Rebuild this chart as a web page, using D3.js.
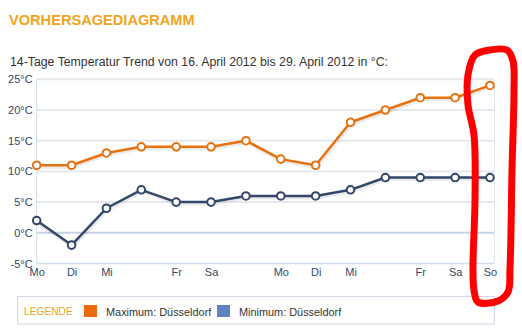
<!DOCTYPE html>
<html><head><meta charset="utf-8">
<script src="https://cdn.jsdelivr.net/npm/d3@7"></script>
<style>
html,body{margin:0;padding:0;background:#fff;}
svg{display:block;font-family:"Liberation Sans",Arial,sans-serif;}
</style></head>
<body>
<svg id="c" width="522" height="333"></svg>
<script>
const title = "VORHERSAGEDIAGRAMM";
const subtitle = "14-Tage Temperatur Trend von 16. April 2012 bis 29. April 2012 in °C:";
const dayLabels = ["Mo","Di","Mi","","Fr","Sa","","Mo","Di","Mi","","Fr","Sa","So"];
const maxTemps = [11,11,13,14,14,14,15,12,11,18,20,22,22,24];
const minTemps = [2,-2,4,7,5,5,6,6,6,7,9,9,9,9];
const yTicks = [-5,0,5,10,15,20,25];
const seriesNames = ["Maximum: Düsseldorf","Minimum: Düsseldorf"];
const legendTitle = "LEGENDE";

(function(){
const svg = d3.select("#c");
const pLeft = 36.7, pRight = 490, plotRight = 494.5, pTop = 79.3, pBottom = 263.5;

svg.append("text").attr("x",9).attr("y",24.5).attr("font-size",14.6).attr("font-weight","bold")
  .attr("fill","#f0a51c").text(title);
svg.append("text").attr("x",10).attr("y",66.3).attr("font-size",12.3).attr("fill","#333")
  .text(subtitle);

const x = d3.scalePoint().domain(d3.range(dayLabels.length)).range([pLeft,pRight]);
const y = d3.scaleLinear().domain([-5,25]).range([pBottom,pTop]);

// grid
const g = svg.append("g");
g.selectAll("line.grid").data(yTicks.filter(d=>d!==0 && d!==-5)).join("line")
  .attr("x1",pLeft).attr("x2",plotRight).attr("y1",d=>y(d)).attr("y2",d=>y(d))
  .attr("stroke","#e6e9ee").attr("stroke-width",2);
g.append("line").attr("x1",pLeft).attr("x2",plotRight).attr("y1",y(0)).attr("y2",y(0))
  .attr("stroke","#c3d2e8").attr("stroke-width",2);
g.append("line").attr("x1",pLeft).attr("x2",plotRight).attr("y1",y(-5)).attr("y2",y(-5))
  .attr("stroke","#d3ddec").attr("stroke-width",1.5);
g.append("line").attr("x1",pLeft).attr("x2",pLeft).attr("y1",pTop).attr("y2",pBottom)
  .attr("stroke","#d6dde8").attr("stroke-width",1);
g.append("line").attr("x1",plotRight).attr("x2",plotRight).attr("y1",pTop).attr("y2",pBottom)
  .attr("stroke","#e3e8f0").attr("stroke-width",1);

// y axis labels
const yAxis = d3.axisLeft(y).tickValues(yTicks).tickSize(0).tickPadding(4).tickFormat(d=>d+"°C");
const ya = svg.append("g").attr("transform",`translate(${pLeft},0)`).call(yAxis);
ya.select(".domain").remove();
ya.selectAll("text").attr("font-size",11).attr("fill","#34466a").attr("font-family","Liberation Sans, Arial, sans-serif");

// x axis labels
const xAxis = d3.axisBottom(x).tickSize(0).tickPadding(0).tickFormat(i=>dayLabels[i]);
const xa = svg.append("g").attr("transform",`translate(0,${pBottom+4.5})`).call(xAxis);
xa.select(".domain").remove();
xa.selectAll("text").attr("font-size",11).attr("fill","#34466a").attr("font-family","Liberation Sans, Arial, sans-serif");

// series
const series = [
  {vals:maxTemps, color:"#e8720f"},
  {vals:minTemps, color:"#34466a"}
];
const line = d3.line().x((d,i)=>x(i)).y(d=>y(d));
series.forEach(s=>{
  svg.append("path").datum(s.vals).attr("d",line).attr("fill","none")
    .attr("stroke","rgba(0,0,0,0.08)").attr("stroke-width",4).attr("transform","translate(1,1.5)");
  svg.append("path").datum(s.vals).attr("d",line).attr("fill","none")
    .attr("stroke",s.color).attr("stroke-width",2.5).attr("stroke-linejoin","round");
  svg.append("g").selectAll("circle").data(s.vals).join("circle")
    .attr("cx",(d,i)=>x(i)).attr("cy",d=>y(d)).attr("r",3.8)
    .attr("fill","#fff").attr("stroke",s.color).attr("stroke-width",2);
});

// legend
const lg = svg.append("g");
lg.append("rect").attr("x",17.5).attr("y",296.5).attr("width",477).attr("height",27.5)
  .attr("fill","#fff").attr("stroke","#cfd8e4").attr("stroke-width",1);
lg.append("text").attr("x",24).attr("y",315.2).attr("font-size",10.2).attr("fill","#f0a51c").text(legendTitle);
const legColors = ["#ea6a0e","#5f82c0"];
const legX = [84,217];
seriesNames.forEach((n,i)=>{
  lg.append("rect").attr("x",legX[i]).attr("y",305).attr("width",13).attr("height",12).attr("fill",legColors[i]);
  lg.append("text").attr("x",legX[i]+22).attr("y",315.5).attr("font-size",10.9).attr("fill","#333").text(n);
});

// red hand-drawn annotation
const loop = [[475,55],[490,50],[507,50],[513,61],[514,90],[512,170],[510,268],[508,292],[498,301],[478,302],[474,290],[473,268],[475,200],[474,135],[468,105],[468,75]];
svg.append("path").attr("d",d3.line().curve(d3.curveCatmullRomClosed)(loop))
  .attr("fill","none").attr("stroke","#ff0000").attr("stroke-width",7).attr("stroke-linejoin","round");
})();
</script>
</body></html>
